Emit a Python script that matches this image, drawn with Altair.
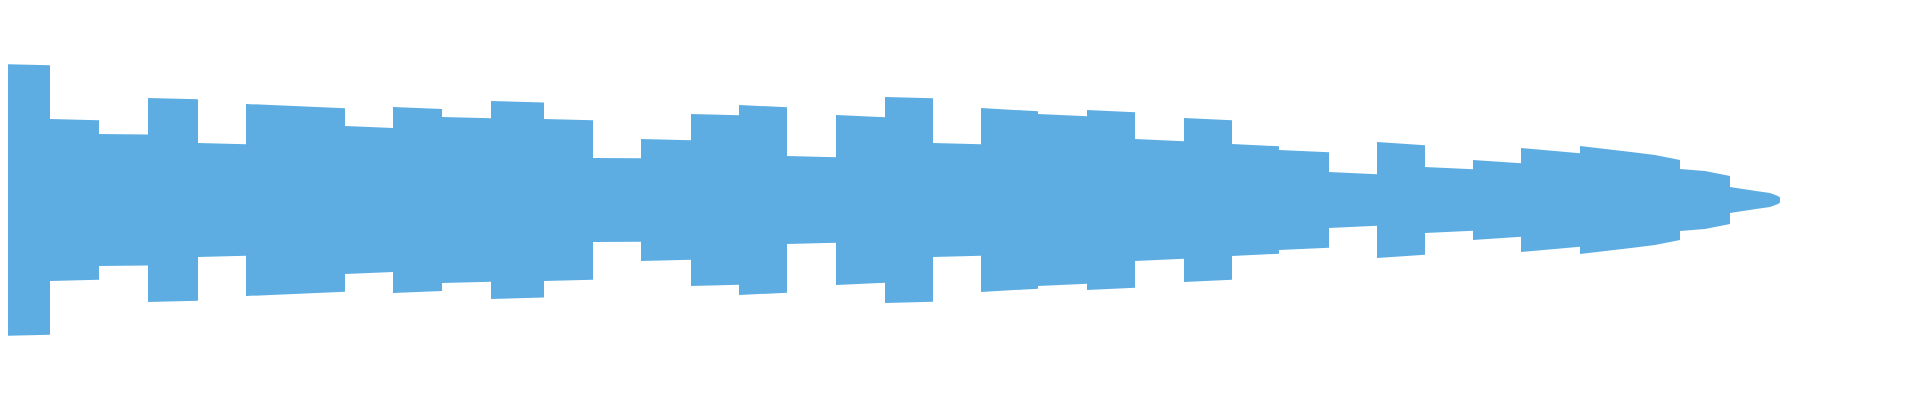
import altair as alt
import pandas as pd

# Breakpoints of the envelope (position along the track, half-width of the band)
t = [0, 50, 50, 99, 99, 148, 148, 198, 198, 246, 246, 345, 345, 393, 393, 442,
     442, 491, 491, 544, 544, 593, 593, 641, 641, 691, 691, 739, 739, 787, 787, 836,
     836, 885, 885, 933, 933, 981, 981, 1038, 1038, 1087, 1087, 1135, 1135, 1184,
     1184, 1232, 1232, 1279, 1279, 1329, 1329, 1377, 1377, 1425, 1425, 1473,
     1473, 1521, 1521, 1580, 1580, 1631, 1655, 1680, 1680, 1705, 1730, 1730,
     1756, 1770, 1778, 1780]
amp = [136, 134.7, 81, 79.7, 66, 65.5, 102, 100.7, 57, 55.7, 96, 91.7, 74, 72, 93, 91,
       83, 81.7, 99, 97.5, 81, 79.7, 42, 41.7, 61, 59.7, 86, 84.7, 95, 92.7, 44, 42.7,
       85, 82.7, 103, 101.7, 57, 55.7, 92, 88.7, 86, 83.7, 90, 87.7, 61, 58.7,
       82, 79.7, 56, 53.7, 50, 47.7, 28, 25.7, 58, 54.7, 33, 30.7,
       40, 36.7, 52, 46.7, 54, 48, 45, 40, 31, 29, 24, 13,
       9, 7, 4, 2.5]

# nudge repeated positions so that vertical jumps keep their order
pos = []
prev = None
for v in t:
    if prev is not None and v <= prev:
        v = prev + 0.001
    pos.append(v)
    prev = v

df = pd.DataFrame({"t": pos, "hi": amp, "lo": [-a for a in amp]})

chart = (
    alt.Chart(df)
    .mark_area(color="#5dade2", interpolate="linear", clip=True, opacity=1)
    .encode(
        x=alt.X("t:Q", scale=alt.Scale(domain=[8, 1912], nice=False, zero=False), axis=None),
        y=alt.Y("hi:Q", scale=alt.Scale(domain=[-192, 192], nice=False), axis=None),
        y2="lo:Q",
    )
    .properties(width=1904, height=384, padding=0, autosize="none")
    .configure_view(strokeWidth=0)
)

chart.save("out.html", embed_options={"renderer": "svg", "actions": False})
